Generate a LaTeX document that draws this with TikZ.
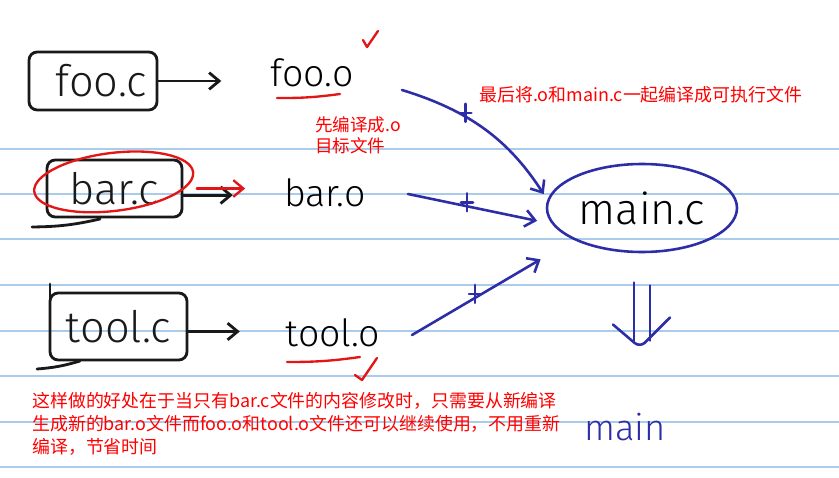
\documentclass[tikz,border=0pt]{standalone}
\usepackage{fontspec}
\usepackage{tikz}
\usetikzlibrary{arrows.meta,shapes.geometric}
\setmainfont{Fira Sans Light}
\newfontfamily\cjk{Noto Sans CJK SC}
\definecolor{rulecol}{RGB}{170,204,234}
\definecolor{inkblue}{RGB}{45,45,168}
\definecolor{inkred}{RGB}{226,22,22}
\definecolor{notered}{RGB}{255,0,0}

\tikzset{
    pen/.style={line width=2.4pt, black!90, line cap=round, line join=round},
    bluepen/.style={line width=2.2pt, inkblue, line cap=round, line join=round},
    redpen/.style={line width=2pt, inkred, line cap=round, line join=round},
    rule/.style={line width=1.5pt, rulecol},
    hand/.style={font=\fontsize{#1}{#1}\selectfont, inner sep=2pt},
    hand/.default=32,
    srcbox/.style={hand=37, pen, draw, rounded corners=7pt},
    note/.style={font=\cjk\fontsize{15.3}{19.5}\selectfont, text=notered, inner sep=0pt, align=left},
    tip/.style={-{Straight Barb[length=0.3cm,width=0.5cm]}},
    plusmk/.pic={\draw[bluepen, -] (-6,-4) -- (6,-4) (0,-13) -- (0,5);}
}

\begin{document}
\begin{tikzpicture}[x=0.03cm, y=-0.03cm]
    \fill[white] (0,0) rectangle (839,478);
    \useasboundingbox (0,0) rectangle (839,478);
    \foreach \y in {149,194,239,285,331,376,422,467}
        \draw[rule] (0,\y) -- (839,\y);

    % sources
    \node[srcbox, minimum width=3.84cm, minimum height=1.74cm] (fooc) at (93,81) {\hspace{0.5cm}foo.c};
    \node[srcbox, minimum width=4.05cm, minimum height=1.71cm] (barc) at (114.5,188.5) {bar.c};
    \node[srcbox, minimum width=4.11cm, minimum height=2.01cm] (toolc) at (118.5,326.5) {tool.c};
    \draw[pen] (32,227) to[bend right=6] (100,219);
    \draw[pen] (37,369) to[bend right=6] (80,361);
    \draw[pen] (50,284) -- (50,300);

    % objects
    \node[hand] (fooo) at (312,73) {foo.o};
    \node[hand] (baro) at (325,193) {bar.o};
    \node[hand] (toolo) at (333,333) {tool.o};
    \node[hand=37, ellipse, draw, bluepen, text=black, minimum width=5.7cm, minimum height=2.64cm] (mainc) at (642,208) {main.c};
    \node[hand=31, text=inkblue] (mainexe) at (625,427) {main};

    \draw[pen, tip, shorten >=1.4cm] (fooc.east) -- (fooc.east -| fooo.west);
    \draw[pen, tip, shorten >=1.47cm] ([yshift=-0.2cm]barc.east) -- ([yshift=-0.2cm]barc.east -| baro.west);
    \draw[pen, tip, shorten >=1.3cm] ([yshift=-0.15cm]toolc.east) -- ([yshift=-0.15cm]toolc.east -| toolo.west);

    % red marks
    \draw[redpen, rotate around={7:(barc.center)}] ([yshift=0.2cm]barc.center) ellipse [x radius=2.4cm, y radius=0.87cm];
    \draw[redpen, tip, shorten <=0.4cm, shorten >=1.1cm] (barc.east) -- (barc.east -| baro.west);
    \draw[redpen] (277,98) to[bend right=4] (340,94);
    \draw[redpen] (287,362) to[bend right=4] (360,357);
    \draw[redpen] (363,40) -- (367,47) -- (378,31);
    \draw[redpen] (355,375) -- (362,380) -- (377,358);

    % link
    \draw[bluepen, tip, shorten >=0.2cm] ([shift={(90,17)}]fooo.center) to[bend left=20] coordinate[pos=0.36] (m1) (mainc.175);
    \draw[bluepen, tip, shorten >=0.45cm] ([shift={(83,1)}]baro.center) -- coordinate[pos=0.41] (m2) (mainc.190);
    \draw[bluepen, tip, shorten >=1.15cm] ([shift={(79,2)}]toolo.center) -- coordinate[pos=0.39] (m3) (mainc.205);
    \foreach \m in {m1,m2,m3}
        \pic at (\m) {plusmk};

    % double arrow
    \coordinate (dtip) at (mainc.south |- mainexe.north);
    \draw[bluepen] ([shift={(-8,-128)}]dtip) -- ([shift={(-8,-70)}]dtip);
    \draw[bluepen] ([shift={(8,-125)}]dtip) -- ([shift={(8,-70)}]dtip);
    \draw[bluepen, rounded corners=6pt] ([shift={(-29,-86)}]dtip) -- ([shift={(-2,-63)}]dtip) -- ([shift={(28,-93)}]dtip);

    % notes
    \node[note, anchor=west] (title) at (479,95) {最后将.o和main.c一起编译成可执行文件};
    \node[note, anchor=north west, font=\cjk\fontsize{15}{18}\selectfont] (note1) at (315,116) {先编译成.o\\目标文件};
    \node[note, anchor=north west] (summary) at (32,392) {这样做的好处在于当只有bar.c文件的内容修改时，只需要从新编译\\生成新的bar.o文件而foo.o和tool.o文件还可以继续使用，不用重新\\编译，节省时间};
\end{tikzpicture}
\end{document}
